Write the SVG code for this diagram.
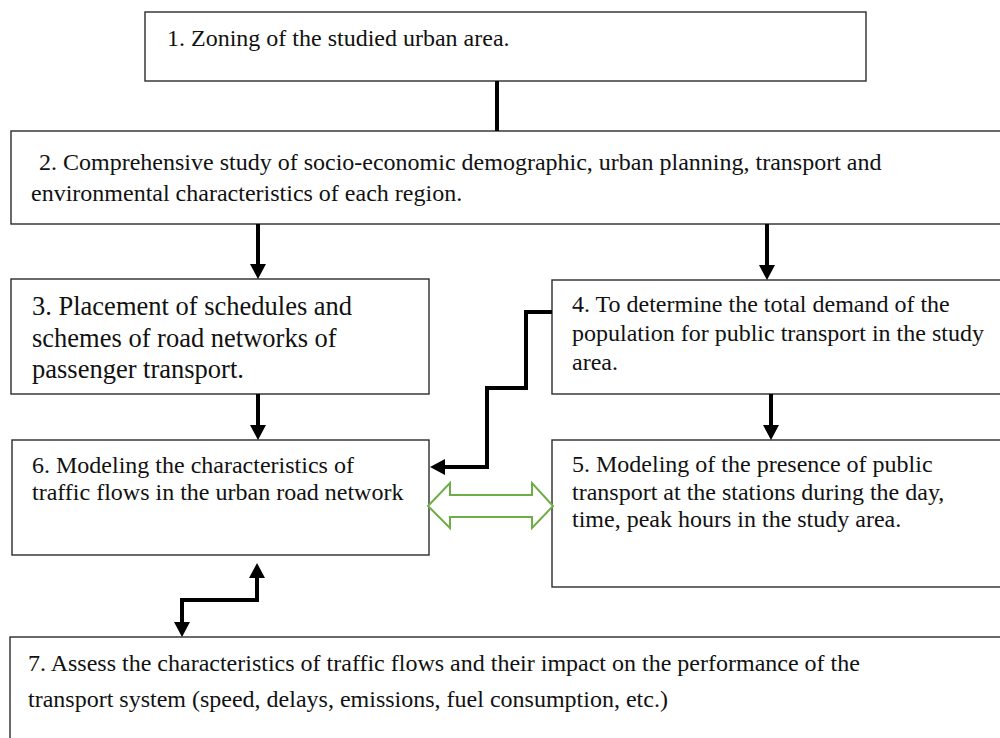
<svg xmlns="http://www.w3.org/2000/svg" width="1000" height="738" viewBox="0 0 1000 738">
<style>
.box{fill:#fff;stroke:#2b2b2b;stroke-width:1.4}
.t{font-family:"Liberation Serif","Times New Roman",serif;font-size:24px;fill:#111}
.big{font-size:26.5px}
.con{fill:none;stroke:#000;stroke-width:4}
.dbl{fill:#fff;stroke:#70AD47;stroke-width:2;stroke-linejoin:miter}
</style>
<defs>
<marker id="ah" viewBox="0 0 15 16" refX="4" refY="8" markerWidth="15" markerHeight="16" markerUnits="userSpaceOnUse" orient="auto-start-reverse">
<path d="M0,0 L15,8 L0,16 z" fill="#000"/>
</marker>
</defs>
<rect width="1000" height="738" fill="#fff"/>
<g id="node1">
<rect class="box" x="145" y="12" width="721" height="69"/>
<text class="t" x="167" y="45.5">1. Zoning of the studied urban area.</text>
</g>
<g id="node2">
<rect class="box" x="11" y="131" width="1000" height="93"/>
<text class="t" x="39" y="170">2. Comprehensive study of socio-economic demographic, urban planning, transport and</text>
<text class="t" x="31" y="201">environmental characteristics of each region.</text>
</g>
<g id="node3">
<rect class="box" x="11" y="279" width="418" height="115"/>
<text class="t big" x="32" y="315">3. Placement of schedules and</text>
<text class="t big" x="32" y="347">schemes of road networks of</text>
<text class="t big" x="32" y="378">passenger transport.</text>
</g>
<g id="node4">
<rect class="box" x="552" y="280" width="460" height="114"/>
<text class="t" x="572" y="312">4. To determine the total demand of the</text>
<text class="t" x="572" y="341">population for public transport in the study</text>
<text class="t" x="572" y="370">area.</text>
</g>
<g id="node5">
<rect class="box" x="552" y="440" width="460" height="147"/>
<text class="t" x="572" y="472">5. Modeling of the presence of public</text>
<text class="t" x="572" y="500">transport at the stations during the day,</text>
<text class="t" x="572" y="527">time, peak hours in the study area.</text>
</g>
<g id="node6">
<rect class="box" x="12" y="440" width="417" height="115"/>
<text class="t" x="32" y="473">6. Modeling the characteristics of</text>
<text class="t" x="32" y="500">traffic flows in the urban road network</text>
</g>
<g id="node7">
<rect class="box" x="10" y="637" width="1000" height="110"/>
<text class="t" x="28" y="671">7. Assess the characteristics of traffic flows and their impact on the performance of the</text>
<text class="t" x="28" y="707">transport system (speed, delays, emissions, fuel consumption, etc.)</text>
</g>
<g id="connectors">
<path class="con" d="M497,81 V131"/>
<path class="con" d="M258,224 V268" marker-end="url(#ah)"/>
<path class="con" d="M767,224 V269" marker-end="url(#ah)"/>
<path class="con" d="M258,394 V429" marker-end="url(#ah)"/>
<path class="con" d="M771,394 V429" marker-end="url(#ah)"/>
<path class="con" d="M552,312 H526 V388 H487 V467 H441" marker-end="url(#ah)"/>
<path class="con" d="M257,574 V600 H182 V626" marker-start="url(#ah)" marker-end="url(#ah)"/>
<polygon class="dbl" points="428,506 450,483 450,495 532,495 532,483 553,506 532,528 532,517 450,517 450,528"/>
</g>
</svg>
